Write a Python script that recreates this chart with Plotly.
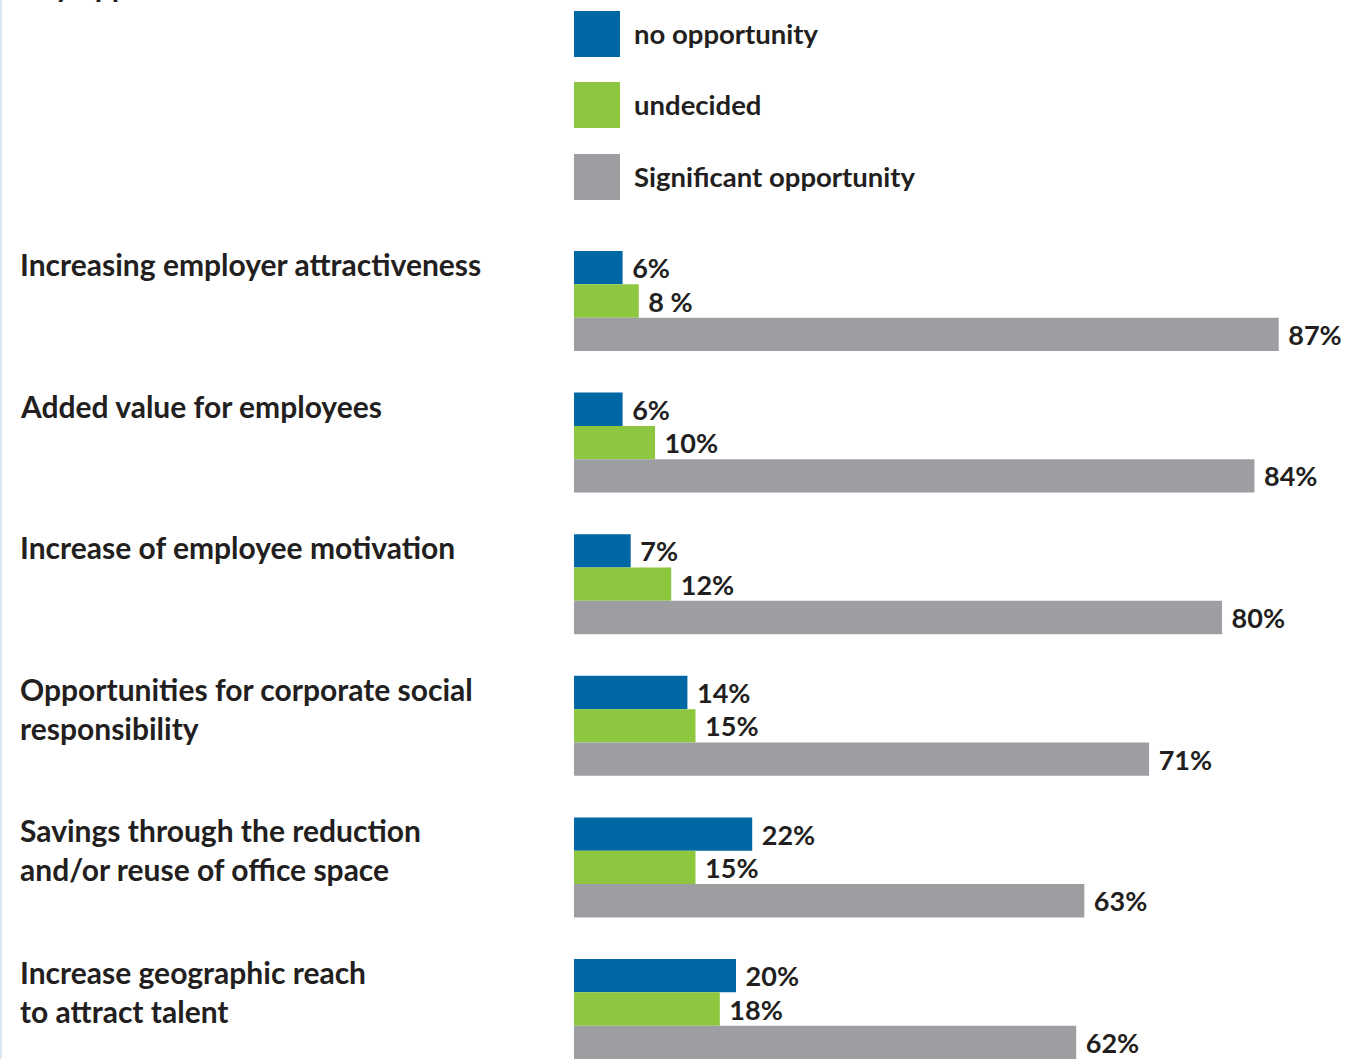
import plotly.graph_objects as go

# Survey results: perceived opportunities (share of respondents, %)
categories = [
    "Increasing employer attractiveness",
    "Added value for employees",
    "Increase of employee motivation",
    "Opportunities for corporate social<br>responsibility",
    "Savings through the reduction<br>and/or reuse of office space",
    "Increase geographic reach<br>to attract talent",
]
series_names = ["no opportunity", "undecided", "Significant opportunity"]
no_opportunity = [6, 6, 7, 14, 22, 20]
undecided = [8, 10, 12, 15, 15, 18]
significant = [87, 84, 80, 71, 63, 62]
undecided_labels = ["8 %", "10%", "12%", "15%", "15%", "18%"]

colors = ["#0067a5", "#8dc63f", "#9d9ea2"]
FONT = "Lato"
TEXT_COLOR = "#231f20"
W, H = 1348, 1059

keys = [f"c{i}" for i in range(len(categories))]

series = [
    (no_opportunity, [f"{v}%" for v in no_opportunity]),
    (undecided, undecided_labels),
    (significant, [f"{v}%" for v in significant]),
]

fig = go.Figure()
for (vals, labels), name, col in zip(series, series_names, colors):
    fig.add_trace(go.Bar(
        y=keys, x=vals, name=name, orientation="h",
        marker=dict(color=col, line=dict(width=0)),
        text=["\u00a0" + t for t in labels],
        textposition="outside", cliponaxis=False,
        textfont=dict(family=FONT, size=27, color=TEXT_COLOR, weight="bold"),
        showlegend=False, hoverinfo="skip",
    ))

px_per_pct = 8.1
bar_left = 574

annotations = []
for k, label in zip(keys, categories):
    annotations.append(dict(
        x=18 / W, xref="paper", xanchor="left",
        y=k, yref="y", yanchor="top", yshift=57,
        text=label, showarrow=False, align="left",
        font=dict(family=FONT, size=30, color=TEXT_COLOR, weight="bold"),
    ))

# Legend: swatches and captions
shapes = []
legend_rows = [(11, 57), (82, 128), (154, 200)]
for (y0, y1), name, col in zip(legend_rows, series_names, colors):
    shapes.append(dict(type="rect", xref="paper", yref="paper",
                       x0=bar_left / W, x1=620 / W,
                       y0=1 - y1 / H, y1=1 - y0 / H,
                       fillcolor=col, line=dict(width=0)))
    annotations.append(dict(
        x=632 / W, xref="paper", xanchor="left",
        y=1 - (y0 + y1) / 2 / H, yref="paper", yanchor="middle",
        text=name, showarrow=False,
        font=dict(family=FONT, size=27.5, color=TEXT_COLOR, weight="bold"),
    ))

# Title sitting just above the visible area
annotations.append(dict(
    x=18 / W, xref="paper", xanchor="left",
    y=1, yref="paper", yanchor="bottom", yshift=-5,
    text="Key opportunities", showarrow=False,
    font=dict(family=FONT, size=30, color=TEXT_COLOR, weight="bold"),
))

# Thin rule along the left edge
shapes.append(dict(type="rect", xref="paper", yref="paper",
                   x0=0, x1=2 / W, y0=0, y1=1,
                   fillcolor="#dbe7f4", line=dict(width=0)))

pitch = 141.6
first_center = 301
fig.update_layout(
    width=W, height=H,
    margin=dict(l=0, r=0, t=0, b=0),
    paper_bgcolor="white", plot_bgcolor="white",
    barmode="group", bargap=1 - 100 / pitch, bargroupgap=0,
    xaxis=dict(domain=[bar_left / W, 1], range=[0, (W - bar_left) / px_per_pct],
               visible=False, fixedrange=True),
    yaxis=dict(type="category", categoryorder="array", categoryarray=keys,
               range=[(H - first_center) / pitch, -first_center / pitch],
               visible=False, fixedrange=True),
    annotations=annotations, shapes=shapes,
    uniformtext=dict(mode=False),
)

fig.write_html("out.html")
